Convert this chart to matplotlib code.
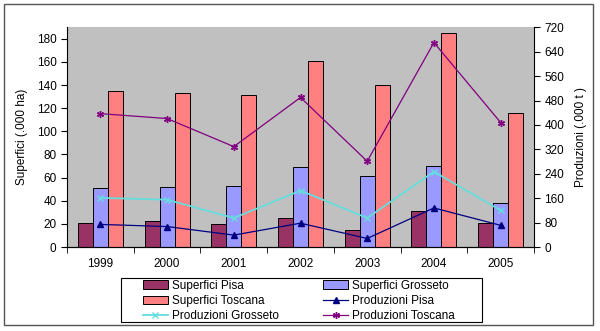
import matplotlib
matplotlib.use("Agg")
import matplotlib.pyplot as plt
from matplotlib.patches import Rectangle
import numpy as np

plt.rcParams['font.family'] = ['Liberation Sans', 'DejaVu Sans']

years = ["1999", "2000", "2001", "2002", "2003", "2004", "2005"]
sup_pisa = [21, 22.5, 20, 25, 14.5, 31.5, 20.5]
sup_grosseto = [51, 52, 53, 69.5, 61.5, 70, 38]
sup_toscana = [134.5, 133.5, 131.5, 161, 140.5, 185, 116]
prod_pisa = [74, 67, 39, 78, 28, 128, 71]
prod_grosseto = [161, 155, 95, 185, 95, 247, 120]
prod_toscana = [437, 421, 329, 490, 281, 670, 408]

FS = 8.5
fig = plt.figure(figsize=(6.0, 3.31), dpi=100)
fig.patch.set_facecolor('white')
fig.patches.append(Rectangle((4/600, 1-325/331), 589/600, 321/331, transform=fig.transFigure,
                             fill=False, edgecolor='#555555', linewidth=1.0))
# legend frame
fig.patches.append(Rectangle((120.7/600, 1-322/331), 361.6/600, 44.3/331, transform=fig.transFigure,
                             fill=False, edgecolor='black', linewidth=0.8, zorder=5))

ax = fig.add_axes([67/600, 1-247/331, 467/600, 219.7/331])
ax.set_facecolor('#C0C0C0')
x = np.arange(len(years))
w = 0.225
bp = ax.bar(x - w, sup_pisa, w, color='#993366', edgecolor='black', linewidth=0.7, label='Superfici Pisa')
bg = ax.bar(x, sup_grosseto, w, color='#9999FF', edgecolor='black', linewidth=0.7, label='Superfici Grosseto')
bt = ax.bar(x + w, sup_toscana, w, color='#FF8080', edgecolor='black', linewidth=0.7, label='Superfici Toscana')
ax.set_xlim(-0.5, len(years) - 0.5)
ax.set_ylim(0, 190)
ax.set_yticks(np.arange(0, 181, 20))
ax.set_xticks(x)
ax.set_xticklabels(years)
ax.set_xticks(np.arange(-0.5, len(years), 1), minor=True)
ax.tick_params(axis='x', which='major', length=0, pad=8, labelsize=FS)
ax.tick_params(axis='x', which='minor', length=4, direction='out')
ax.tick_params(axis='y', length=4, direction='out', labelsize=FS)
ax.set_ylabel('Superfici (.000 ha)', fontsize=FS, labelpad=6)
for s in ['top', 'right']:
    ax.spines[s].set_visible(False)

ax2 = ax.twinx()
ax2.set_ylim(0, 720)
ax2.set_yticks(np.arange(0, 721, 80))
lp, = ax2.plot(x, prod_pisa, color='#000080', marker='^', markersize=4.5, linewidth=0.9, label='Produzioni Pisa')
lg, = ax2.plot(x, prod_grosseto, color='#66DDDD', marker='x', markersize=4, linewidth=1.3, label='Produzioni Grosseto')
lt, = ax2.plot(x, prod_toscana, color='#800080', marker=(6, 2, 0), markersize=5, linewidth=0.9, label='Produzioni Toscana')
ax2.tick_params(axis='y', length=4, direction='out', labelsize=FS)
ax2.set_ylabel('Produzioni (.000 t )', fontsize=FS, rotation=90, labelpad=8)
ax2.spines['top'].set_visible(False)
ax2.spines['left'].set_visible(False)

handles = [bp, bt, lg, bg, lp, lt]
labels = [h.get_label() for h in handles]
leg = fig.legend(handles, labels, ncol=2, loc='upper left', bbox_to_anchor=(143/600, 1-279.5/331),
                 fontsize=FS, frameon=False, borderpad=0, labelspacing=0.28, handlelength=2.1,
                 handletextpad=0.35, columnspacing=3.75, borderaxespad=0)

fig.savefig('out.png', dpi=100)
